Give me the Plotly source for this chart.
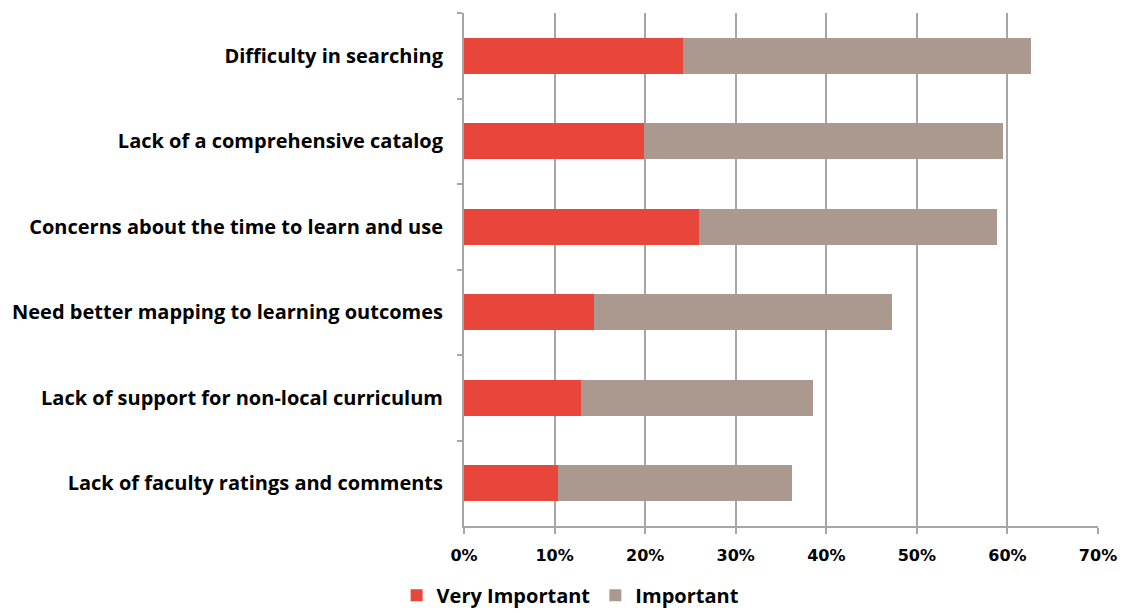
import plotly.graph_objects as go

categories = ["Difficulty in searching",
              "Lack of a comprehensive catalog",
              "Concerns about the time to learn and use",
              "Need better mapping to learning outcomes",
              "Lack of support for non-local curriculum",
              "Lack of faculty ratings and comments"]
very_important = [24.2, 19.9, 25.9, 14.4, 12.9, 10.4]
important = [38.4, 39.6, 32.9, 32.9, 25.6, 25.8]

label_font = "Open Sans"
tick_font = "DejaVu Sans"

fig = go.Figure()
fig.add_trace(go.Bar(y=categories, x=very_important, orientation="h", name="Very Important",
                     marker=dict(color="#e8463a", line=dict(width=0))))
fig.add_trace(go.Bar(y=categories, x=important, orientation="h", name="Important",
                     marker=dict(color="#ab998f", line=dict(width=0))))

fig.update_layout(
    barmode="stack",
    bargap=0.58,
    width=1133, height=615,
    margin=dict(l=456, r=43, t=5, b=97),
    plot_bgcolor="white", paper_bgcolor="white",
    font=dict(family=label_font, size=17, color="black"),
    legend=dict(orientation="h", xref="container", yref="container",
                x=0.343, xanchor="left", y=0.045, yanchor="middle",
                font=dict(family=label_font, size=20, color="black", weight="bold"),
                itemwidth=30, traceorder="normal"),
    xaxis=dict(range=[0, 70], dtick=10, ticksuffix="%",
               showgrid=True, gridcolor="#a6a6a6", gridwidth=2,
               showline=True, linecolor="#a6a6a6", linewidth=2,
               ticks="outside", ticklen=6, tickcolor="#a6a6a6", tickwidth=2,
               zeroline=False, ticklabelstandoff=8,
               tickfont=dict(family=tick_font, size=16, weight="bold")),
    yaxis=dict(autorange="reversed", tickson="boundaries",
               showline=True, linecolor="#a6a6a6", linewidth=2,
               ticks="outside", ticklen=5, tickcolor="#a6a6a6", tickwidth=2,
               showgrid=False, ticklabelstandoff=15,
               tickfont=dict(family=label_font, size=20, weight="bold")),
)

fig.write_html("out.html")
